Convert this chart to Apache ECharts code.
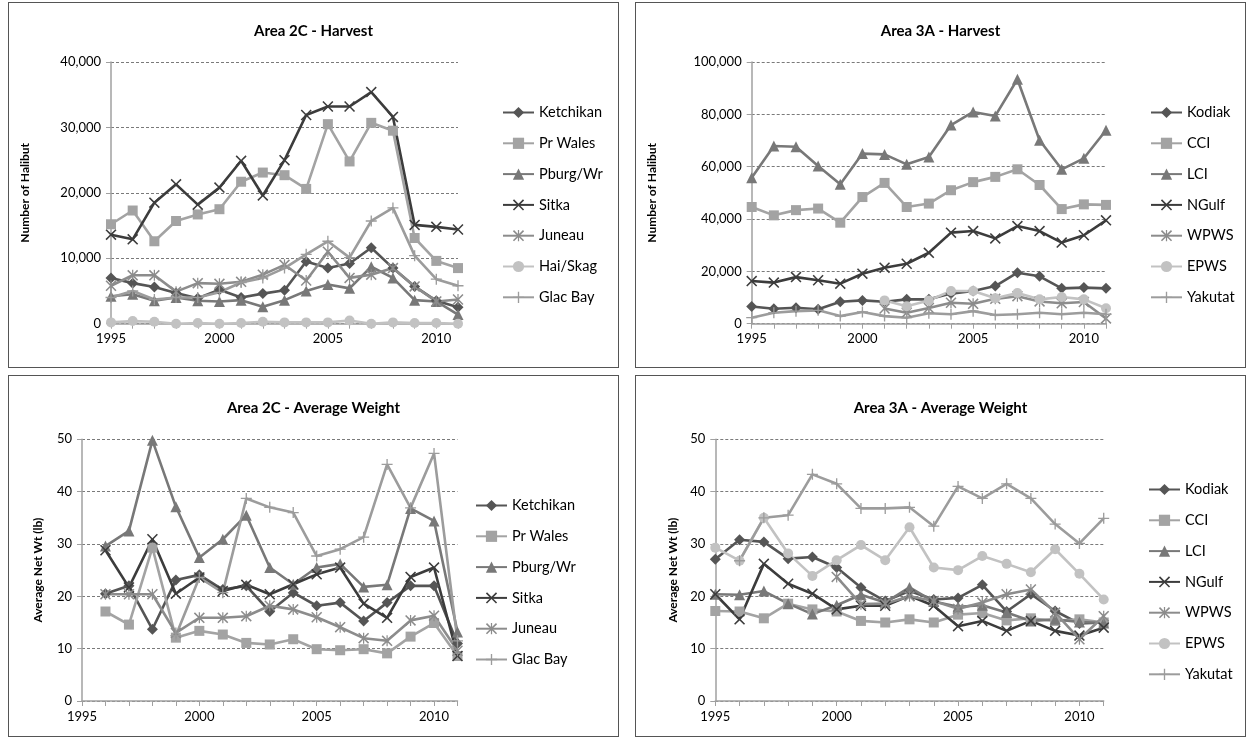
<!DOCTYPE html>
<html>
<head>
<meta charset="utf-8">
<script src="https://cdn.jsdelivr.net/npm/echarts@6/dist/echarts.min.js"></script>
<style>
  html, body { margin: 0; padding: 0; background: #fff; width: 1250px; height: 738px; overflow: hidden; }
  .panel { position: absolute; box-sizing: border-box; border: 1px solid #555; background: #fff; }
</style>
</head>
<body>
<div id="p1" class="panel" style="left:8px;top:2px;width:611px;height:366px;"></div>
<div id="p2" class="panel" style="left:635px;top:2px;width:611px;height:366px;"></div>
<div id="p3" class="panel" style="left:8px;top:375px;width:611px;height:362px;"></div>
<div id="p4" class="panel" style="left:635px;top:375px;width:611px;height:362px;"></div>
<script>
// Years shared by every panel
const years = [1995, 1996, 1997, 1998, 1999, 2000, 2001, 2002, 2003, 2004, 2005, 2006, 2007, 2008, 2009, 2010, 2011];

// Area 2C - harvest (number of halibut)
const ketchikanHarvest = [7000, 6200, 5600, 4700, 3900, 5200, 4000, 4600, 5100, 9500, 8500, 9200, 11600, 8500, 5700, 3500, 2500];
const prWalesHarvest   = [15200, 17300, 12600, 15700, 16700, 17500, 21700, 23100, 22700, 20600, 30500, 24800, 30700, 29500, 13100, 9600, 8500];
const pburgHarvest     = [4200, 4500, 3500, 4000, 3500, 3400, 3600, 2600, 3600, 5000, 6000, 5400, 8700, 7000, 3600, 3400, 1400];
const sitkaHarvest     = [13600, 12900, 18500, 21300, 18200, 20800, 24900, 19600, 25000, 31900, 33200, 33200, 35400, 31600, 15100, 14800, 14400];
const juneauHarvest    = [5800, 7400, 7400, 4900, 6200, 6100, 6400, 7500, 9000, 6600, 11000, 7000, 7500, 8500, 5700, 3400, 3700];
const haiSkagHarvest   = [200, 400, 300, 0, 100, 0, 100, 300, 200, 200, 200, 500, 0, 200, 100, 100, 0];
const glacBayHarvest   = [4000, 5000, 3700, 4000, 4000, 4800, 6300, 7000, 8500, 10600, 12600, 10100, 15700, 17700, 10400, 6800, 5800];

// Area 3A - harvest (number of halibut)
const kodiakHarvest  = [6600, 5700, 6100, 5500, 8400, 8900, 8400, 9300, 9300, 11500, 12500, 14400, 19500, 18100, 13500, 13800, 13500];
const cciHarvest     = [44600, 41400, 43400, 44000, 38600, 48400, 53800, 44600, 45900, 51000, 54100, 56100, 59000, 53000, 43800, 45600, 45400];
const lciHarvest     = [55800, 67900, 67600, 60300, 53300, 65000, 64700, 60900, 63700, 75900, 80900, 79400, 93400, 70100, 59000, 63200, 73900];
const ngulfHarvest   = [16300, 15700, 17800, 16600, 15300, 19100, 21400, 22900, 27100, 34800, 35400, 32600, 37300, 35400, 31000, 33800, 39500];
const wpwsHarvest    = [null, null, null, null, null, null, 5800, 4200, 6000, 8000, 7600, 9500, 10500, 8500, 7800, 8300, 2000];
const epwsHarvest    = [null, null, null, null, null, null, 8900, 6700, 8900, 12500, 12500, 9700, 11700, 9300, 10200, 9300, 5900];
const yakutatHarvest = [2300, 4200, 4800, 5100, 2900, 4500, 2900, 2300, 4000, 3600, 4800, 3300, 3600, 4200, 3600, 4200, 3600];

// Area 2C - average net weight (lb)
const ketchikanWeight = [null, 20.5, 22.0, 13.7, 23.1, 24.1, 21.3, 22.0, 17.1, 20.7, 18.2, 18.8, 15.3, 18.8, 22.0, 22.0, 11.0];
const prWalesWeight   = [null, 17.1, 14.6, 29.3, 12.1, 13.4, 12.7, 11.1, 10.8, 11.8, 9.9, 9.7, 9.9, 9.1, 12.3, 14.9, 8.6];
const pburgWeight     = [null, 29.6, 32.5, 49.8, 37.1, 27.4, 30.9, 35.5, 25.5, 22.3, 25.5, 26.2, 21.8, 22.2, 36.8, 34.4, 13.2];
const sitkaWeight     = [null, 28.8, 21.7, 30.9, 20.5, 23.6, 21.0, 22.2, 20.4, 22.3, 24.2, 25.5, 18.6, 15.9, 23.7, 25.5, 8.6];
const juneauWeight    = [null, 20.4, 20.4, 20.4, 13.0, 15.9, 15.9, 16.2, 18.2, 17.5, 16.0, 14.1, 12.0, 11.5, 15.4, 16.3, 9.6];
const glacBayWeight   = [null, null, null, null, 12.5, 23.6, 20.7, 38.7, 37.0, 36.0, 27.7, 29.0, 31.3, 45.2, 36.9, 47.3, 11.5];

// Area 3A - average net weight (lb)
const kodiakWeight  = [27.1, 30.8, 30.4, 27.2, 27.5, 25.5, 21.7, 19.1, 21.0, 19.4, 19.7, 22.2, 17.1, 20.4, 17.2, 14.8, 15.0];
const cciWeight     = [17.2, 17.1, 15.8, 18.6, 17.5, 17.1, 15.3, 15.0, 15.6, 15.0, 16.5, 16.8, 15.4, 15.8, 15.3, 15.6, 15.0];
const lciWeight     = [20.4, 20.3, 21.0, 18.6, 16.6, 18.3, 20.3, 18.8, 21.7, 19.0, 18.0, 18.3, 16.9, 15.3, 15.6, 15.1, 14.9];
const ngulfWeight   = [20.4, 15.6, 26.2, 22.4, 20.5, 17.5, 18.2, 18.2, 20.1, 18.2, 14.3, 15.3, 13.4, 15.3, 13.4, 12.5, 14.0];
const wpwsWeight    = [null, null, null, null, null, 23.7, 18.5, 18.6, 20.0, 19.1, 17.6, 18.8, 20.4, 21.3, 16.9, 11.8, 16.2];
const epwsWeight    = [29.3, 26.8, 35.0, 28.2, 23.9, 26.9, 29.8, 26.9, 33.2, 25.5, 25.0, 27.7, 26.2, 24.6, 29.0, 24.3, 19.4];
const yakutatWeight = [null, 26.8, 35.0, 35.5, 43.3, 41.5, 36.8, 36.8, 37.0, 33.4, 41.0, 38.7, 41.5, 38.7, 33.8, 30.1, 34.9];

// Marker shapes drawn as filled outlines (10x10 boxes so they are not stretched)
const X_MARK = 'path://M0,1L1,0L5,4L9,0L10,1L6,5L10,9L9,10L5,6L1,10L0,9L4,5Z';
const PLUS_MARK = 'path://M4.4,0H5.6V4.4H10V5.6H5.6V10H4.4V5.6H0V4.4H4.4Z';
const STAR_MARK = 'path://M0,1L1,0L5,4L9,0L10,1L6,5L10,9L9,10L5,6L1,10L0,9L4,5Z M4.45,0H5.55V10H4.45Z';

// Line styles per series slot (same look in both areas)
const STYLES = {
  diamond:  { color: '#555555', symbol: 'diamond', size: 11 },
  square:   { color: '#a3a3a3', symbol: 'rect', size: 10 },
  triangle: { color: '#787878', symbol: 'triangle', size: 11 },
  cross:    { color: '#3c3c3c', symbol: X_MARK, size: 11 },
  star:     { color: '#8c8c8c', symbol: STAR_MARK, size: 11 },
  circle:   { color: '#c2c2c2', symbol: 'circle', size: 10 },
  plus:     { color: '#9c9c9c', symbol: PLUS_MARK, size: 11 }
};

const FONT = 'Lato, "Open Sans", sans-serif';

function makeSeries(name, values, styleKey) {
  const s = STYLES[styleKey];
  return {
    name: name,
    type: 'line',
    data: years.map((y, i) => [y, values[i]]).filter(d => d[1] !== null),
    symbol: s.symbol,
    symbolSize: s.size,
    symbolKeepAspect: true,
    showAllSymbol: true,
    color: s.color,
    lineStyle: { color: s.color, width: 2.6 },
    itemStyle: { color: s.color },
    emphasis: { disabled: true },
    animation: false
  };
}

function buildOption(cfg) {
  return {
    animation: false,
    textStyle: { fontFamily: FONT },
    title: {
      text: cfg.title,
      left: 'center',
      top: cfg.titleTop,
      textStyle: { fontFamily: FONT, fontSize: 15, fontWeight: 'bold', color: '#000' }
    },
    legend: {
      orient: 'vertical',
      left: cfg.legendLeft,
      top: cfg.legendTop,
      itemWidth: 31,
      itemHeight: 14,
      itemGap: 15.8,
      textStyle: { fontFamily: FONT, fontSize: 14.5, color: '#000' },
      data: cfg.series.map(s => s.name)
    },
    grid: { left: cfg.grid[0], top: cfg.grid[1], width: cfg.grid[2], height: cfg.grid[3], containLabel: false },
    xAxis: {
      type: 'value',
      min: 1995,
      max: 2011,
      interval: 1,
      axisLine: { lineStyle: { color: '#a0a0a0', width: 1.5 } },
      axisTick: { show: true, length: 5, lineStyle: { color: '#a0a0a0', width: 1 } },
      splitLine: { show: false },
      axisLabel: {
        color: '#000', fontSize: 13, fontFamily: FONT, margin: 9,
        formatter: v => (v % 5 === 0 ? String(v) : '')
      }
    },
    yAxis: {
      type: 'value',
      min: 0,
      max: cfg.yMax,
      interval: cfg.yStep,
      name: cfg.yName,
      nameLocation: 'middle',
      nameGap: cfg.yNameGap,
      nameTextStyle: { fontFamily: FONT, fontSize: 12, fontWeight: 'bold', color: '#000' },
      axisLine: { show: true, lineStyle: { color: '#a0a0a0', width: 1.5 } },
      axisTick: { show: true, length: 5, lineStyle: { color: '#a0a0a0' } },
      splitLine: { show: true, lineStyle: { color: '#7a7a7a', width: 1, type: [3, 2] } },
      axisLabel: {
        color: '#000', fontSize: 13, fontFamily: FONT, margin: 10,
        formatter: v => v.toLocaleString('en-US')
      }
    },
    series: cfg.series
  };
}

const panels = [
  {
    el: 'p1', title: 'Area 2C - Harvest', titleTop: 16,
    grid: [102, 59, 347, 261.7], yMax: 40000, yStep: 10000,
    yName: 'Number of Halibut', yNameGap: 80,
    legendLeft: 488, legendTop: 97,
    series: [
      makeSeries('Ketchikan', ketchikanHarvest, 'diamond'),
      makeSeries('Pr Wales', prWalesHarvest, 'square'),
      makeSeries('Pburg/Wr', pburgHarvest, 'triangle'),
      makeSeries('Sitka', sitkaHarvest, 'cross'),
      makeSeries('Juneau', juneauHarvest, 'star'),
      makeSeries('Hai/Skag', haiSkagHarvest, 'circle'),
      makeSeries('Glac Bay', glacBayHarvest, 'plus')
    ]
  },
  {
    el: 'p2', title: 'Area 3A - Harvest', titleTop: 16,
    grid: [115.7, 59, 354.3, 261.7], yMax: 100000, yStep: 20000,
    yName: 'Number of Halibut', yNameGap: 94,
    legendLeft: 509, legendTop: 97,
    series: [
      makeSeries('Kodiak', kodiakHarvest, 'diamond'),
      makeSeries('CCI', cciHarvest, 'square'),
      makeSeries('LCI', lciHarvest, 'triangle'),
      makeSeries('NGulf', ngulfHarvest, 'cross'),
      makeSeries('WPWS', wpwsHarvest, 'star'),
      makeSeries('EPWS', epwsHarvest, 'circle'),
      makeSeries('Yakutat', yakutatHarvest, 'plus')
    ]
  },
  {
    el: 'p3', title: 'Area 2C - Average Weight', titleTop: 20,
    grid: [73, 63.3, 375.5, 261.7], yMax: 50, yStep: 10,
    yName: 'Average Net Wt (lb)', yNameGap: 38,
    legendLeft: 461, legendTop: 117,
    series: [
      makeSeries('Ketchikan', ketchikanWeight, 'diamond'),
      makeSeries('Pr Wales', prWalesWeight, 'square'),
      makeSeries('Pburg/Wr', pburgWeight, 'triangle'),
      makeSeries('Sitka', sitkaWeight, 'cross'),
      makeSeries('Juneau', juneauWeight, 'star'),
      makeSeries('Glac Bay', glacBayWeight, 'plus')
    ]
  },
  {
    el: 'p4', title: 'Area 3A - Average Weight', titleTop: 20,
    grid: [79.3, 63.3, 388.4, 261.7], yMax: 50, yStep: 10,
    yName: 'Average Net Wt (lb)', yNameGap: 33,
    legendLeft: 507, legendTop: 101,
    series: [
      makeSeries('Kodiak', kodiakWeight, 'diamond'),
      makeSeries('CCI', cciWeight, 'square'),
      makeSeries('LCI', lciWeight, 'triangle'),
      makeSeries('NGulf', ngulfWeight, 'cross'),
      makeSeries('WPWS', wpwsWeight, 'star'),
      makeSeries('EPWS', epwsWeight, 'circle'),
      makeSeries('Yakutat', yakutatWeight, 'plus')
    ]
  }
];

panels.forEach(p => {
  const chart = echarts.init(document.getElementById(p.el), null, { renderer: 'canvas' });
  chart.setOption(buildOption(p));
});
</script>
</body>
</html>
